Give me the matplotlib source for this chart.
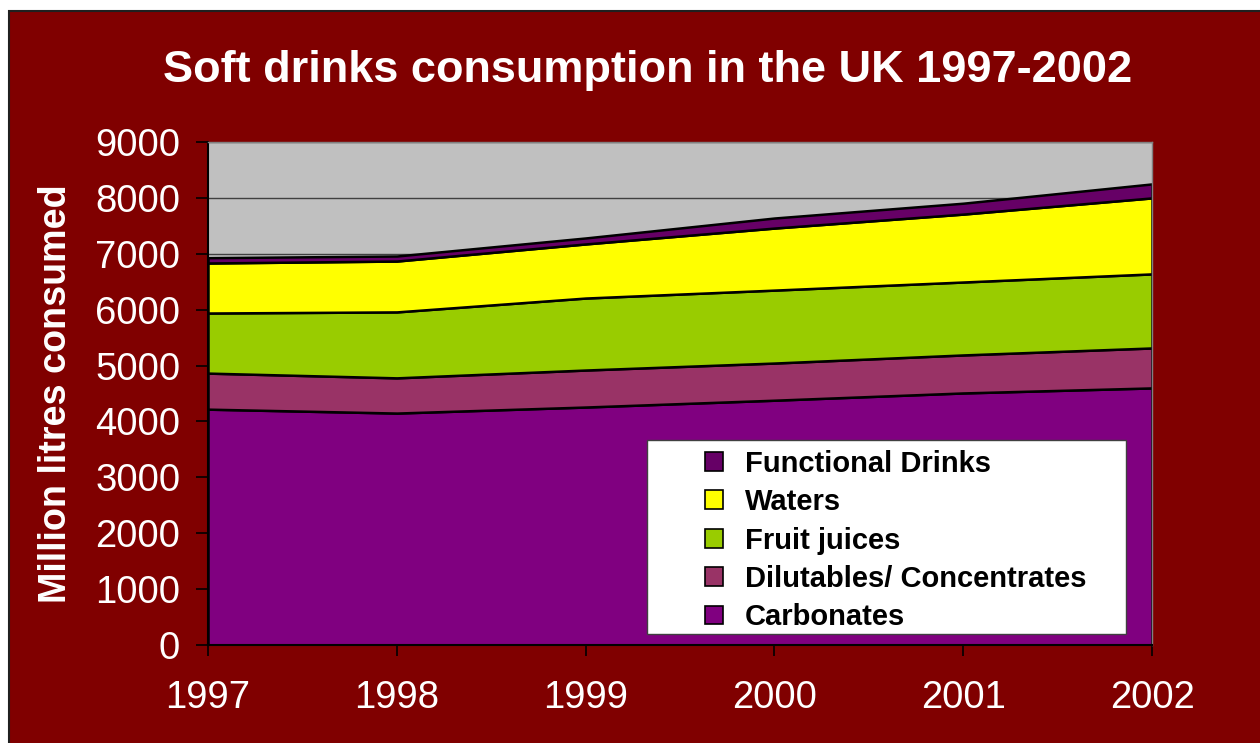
import matplotlib
matplotlib.use("Agg")
import matplotlib.pyplot as plt
from matplotlib.patches import Patch, Rectangle

# UK soft drinks consumption, million litres
years = ["1997", "1998", "1999", "2000", "2001", "2002"]
carbonates = [4220, 4150, 4258, 4380, 4510, 4600]
dilutables = [645, 630, 662, 665, 680, 715]
fruit_juices = [1075, 1180, 1288, 1305, 1305, 1325]
waters = [895, 910, 968, 1110, 1215, 1360]
functional = [95, 90, 107, 180, 195, 250]

series_names = ["Carbonates", "Dilutables/ Concentrates", "Fruit juices",
                "Waters", "Functional Drinks"]
series_colors = ["#800080", "#993366", "#99CC00", "#FFFF00", "#660066"]

plt.rcParams["font.family"] = ["Liberation Sans", "DejaVu Sans"]

fig = plt.figure(figsize=(12.6, 7.43), dpi=100)
fig.patch.set_facecolor("white")
# dark red backdrop with a thin black outline, kept behind the axes
fig.patches.append(Rectangle((8.5 / 1260, -0.01), 1.02, (743 - 11.5) / 743 + 0.01,
                             transform=fig.transFigure, facecolor="#800000",
                             edgecolor="#202020", linewidth=1.5, zorder=-10))

ax = fig.add_axes([208 / 1260, (743 - 645) / 743, 944 / 1260, 503 / 743])
ax.set_facecolor("#C0C0C0")

x = list(range(len(years)))
ax.stackplot(x, carbonates, dilutables, fruit_juices, waters, functional,
             colors=series_colors, edgecolor="black", linewidth=1.8, zorder=2)

ax.set_xlim(0, len(years) - 1)
ax.set_ylim(0, 9000)
ax.set_yticks(range(0, 9001, 1000))
ax.set_xticks(x)
ax.set_xticklabels(years)

ax.set_axisbelow(True)
ax.grid(axis="y", color="#404040", linewidth=1.0, zorder=1)

for side in ("left", "bottom"):
    ax.spines[side].set_color("black")
    ax.spines[side].set_linewidth(1.5)
for side in ("top", "right"):
    ax.spines[side].set_color("#808080")
    ax.spines[side].set_linewidth(1.0)

ax.tick_params(axis="y", direction="out", length=9, width=1.2, color="black",
               labelcolor="white", labelsize=27.5, pad=11)
ax.tick_params(axis="x", direction="out", length=8, width=1.2, color="black",
               labelcolor="white", labelsize=27.5, pad=17)

ax.set_ylabel("Million litres consumed", color="white", fontsize=27.2,
              fontweight="bold")
ax.yaxis.set_label_coords(-0.1417, 0.5)

fig.text(647.5 / 1260, 1 - 82 / 743, "Soft drinks consumption in the UK 1997-2002",
         color="white", fontsize=32.5, fontweight="bold", ha="center",
         va="baseline")

# legend box
ax.add_patch(Rectangle((0.465, 0.0219), 0.9725 - 0.465, 0.4076 - 0.0219,
                       transform=ax.transAxes, facecolor="white",
                       edgecolor="#404040", linewidth=1.0, zorder=5))
handles = [Patch(facecolor=c, edgecolor="black", linewidth=1.2)
           for c in series_colors][::-1]
leg = ax.legend(handles, series_names[::-1], loc="upper left",
                bbox_to_anchor=(0.5106, 0.417), frameon=False, borderpad=0,
                prop={"size": 21, "weight": "bold"}, handlelength=0.62,
                handleheight=0.62, handletextpad=0.76, labelspacing=0.355)
leg.set_zorder(6)

fig.savefig("out.png", dpi=100, facecolor=fig.get_facecolor())
